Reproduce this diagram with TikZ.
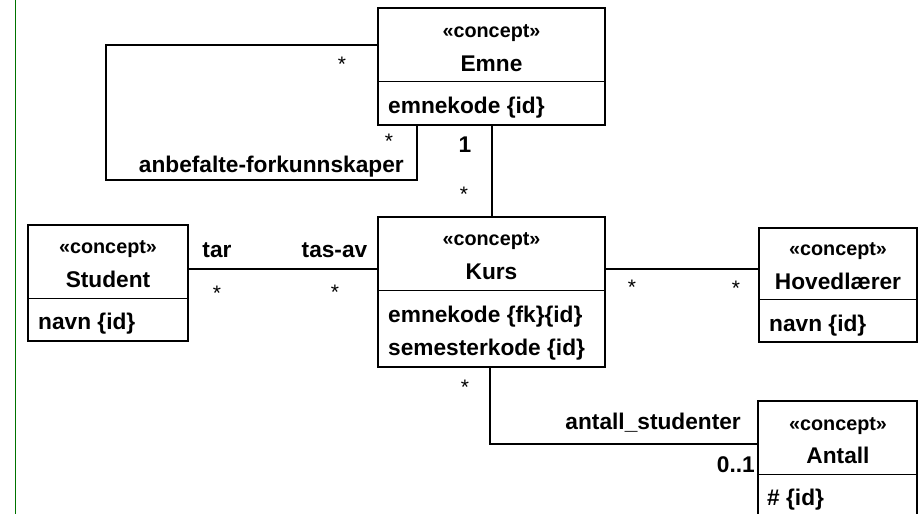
\documentclass[tikz,border=0pt]{standalone}
\usepackage{fontspec}
\setmainfont{Liberation Sans}
\begin{document}
\begin{tikzpicture}[x=1pt,y=-1pt,
  klasse/.style={draw, line width=2pt, inner sep=0pt},
  skille/.style={line width=1pt},
  forb/.style={line width=2pt},
  stereo/.style={font=\fontsize{19.8}{24}\selectfont\bfseries, anchor=base, inner sep=0pt},
  tittel/.style={font=\fontsize{22.7}{27}\selectfont\bfseries, anchor=base, inner sep=0pt},
  attr/.style={tittel, anchor=base west},
  mult/.style={font=\fontsize{21}{24}\selectfont, anchor=base, inner sep=0pt}]
  \clip (0,0) rectangle (919,514);
  \draw[green!45!black, line width=1.2pt] (15.5,0) -- (15.5,514);
  % klasser
  \node[klasse, minimum width=227pt, minimum height=117pt] (emne) at (491.5,66.5) {};
  \draw[skille] (emne.west |- 0,81) -- (emne.east |- 0,81);
  \node[stereo] (emneS) at (491.5,37) {«concept»};
  \node[tittel] (emneT) at (491.5,71) {Emne};
  \node[attr] (emneA) at (388,113) {emnekode \{id\}};
  \node[klasse, minimum width=227pt, minimum height=150pt] (kurs) at (491.5,292) {};
  \draw[skille] (kurs.west |- 0,290) -- (kurs.east |- 0,290);
  \node[stereo] (kursS) at (491.5,245) {«concept»};
  \node[tittel] (kursT) at (491.5,279) {Kurs};
  \node[attr] (kursA) at (388,322) {emnekode \{fk\}\{id\}};
  \node[attr] (kursB) at (388,355) {semesterkode \{id\}};
  \node[klasse, minimum width=160pt, minimum height=116pt] (student) at (108,283) {};
  \draw[skille] (student.west |- 0,298) -- (student.east |- 0,298);
  \node[stereo] (studentS) at (108,253) {«concept»};
  \node[tittel] (studentT) at (108,287) {Student};
  \node[attr] (studentA) at (38,329) {navn \{id\}};
  \node[klasse, minimum width=158pt, minimum height=114pt] (hoved) at (838,285) {};
  \draw[skille] (hoved.west |- 0,299) -- (hoved.east |- 0,299);
  \node[stereo] (hovedS) at (838,255) {«concept»};
  \node[tittel] (hovedT) at (838,289) {Hovedlærer};
  \node[attr] (hovedA) at (769,331) {navn \{id\}};
  \node[klasse, minimum width=159pt, minimum height=129pt] (antall) at (837.5,465.5) {};
  \draw[skille] (antall.west |- 0,474) -- (antall.east |- 0,474);
  \node[stereo] (antallS) at (838,430) {«concept»};
  \node[tittel] (antallT) at (838,463) {Antall};
  \node[attr] (antallA) at (767,505) {\# \{id\}};
  % forbindelser
  \draw[forb] (emne.west |- 0,45) -| (106,180) -| (emne.south -| 417,0);
  \draw[forb] (emne) -- (kurs);
  \draw[forb] (student.east |- 0,269) -- (kurs.west |- 0,269);
  \draw[forb] (kurs.east |- 0,269) -- (hoved.west |- 0,269);
  \draw[forb] (kurs.south -| 490,0) |- (antall.west |- 0,444);
  % roller og multiplisitet
  \node[mult] (m1) at (342,71) {*};
  \node[mult] (m2) at (389,148) {*};
  \node[tittel, anchor=base east] (r1) at (404,172) {anbefalte-forkunnskaper};
  \node[tittel] (m3) at (465,152) {1};
  \node[mult] (m4) at (464,201) {*};
  \node[tittel] (r2) at (217,257) {tar};
  \node[tittel] (r3) at (334.5,257) {tas-av};
  \node[mult] (m5) at (217,300) {*};
  \node[mult] (m6) at (335,299) {*};
  \node[mult] (m7) at (632,294) {*};
  \node[mult] (m8) at (736,295) {*};
  \node[mult] (m9) at (465,394) {*};
  \node[tittel, anchor=base east] (r4) at (741,429) {antall\_studenter};
  \node[tittel, anchor=base east] (m10) at (755,472) {0..1};
\end{tikzpicture}
\end{document}
